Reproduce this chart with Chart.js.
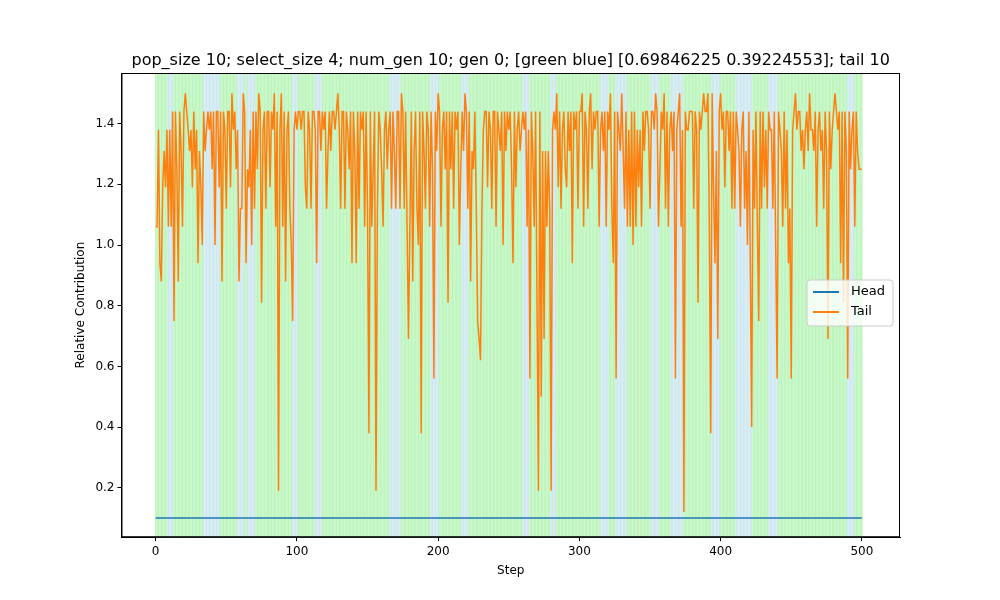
<!DOCTYPE html>
<html><head><meta charset="utf-8">
<script src="https://cdn.jsdelivr.net/npm/chart.js@4"></script>
<style>html,body{margin:0;background:#fff}#w{width:1000px;height:600px}</style>
</head><body><div id="w"><canvas id="c"></canvas></div>
<script>
const titleText = "pop_size 10; select_size 4; num_gen 10; gen 0; [green blue] [0.69846225 0.39224553]; tail 10";
const headValue = 0.1;
const tailValues = [
1.06,1.06,1.38,0.94,0.88,1.19,1.31,1.19,1.38,1.06,
1.38,1.06,1.44,0.75,1.44,1.25,0.88,1.44,1.31,1.06,
1.44,1.5,1.44,1.38,1.31,1.38,1.19,1.44,1.25,1.38,
0.94,1.31,1.19,1.0,1.44,1.31,1.38,1.44,1.38,1.44,
1.25,1.44,1.0,1.44,1.44,1.19,1.44,0.88,1.44,1.38,
1.12,1.44,1.44,1.19,1.5,1.38,1.44,1.25,1.38,0.88,
1.12,1.12,1.5,1.44,0.94,1.25,1.19,1.38,1.0,1.44,
1.12,1.44,1.25,1.5,1.44,0.81,1.38,1.44,1.12,1.44,
1.44,1.19,1.44,1.38,1.5,1.06,1.44,0.19,1.38,1.5,
1.06,1.44,0.88,1.38,1.44,1.12,1.0,0.75,1.38,1.44,
1.38,1.44,1.44,1.38,1.44,1.44,1.19,1.12,1.44,1.38,
1.12,1.44,1.44,1.38,0.94,1.44,1.44,1.31,1.44,1.38,
1.44,1.12,1.31,1.44,1.31,1.44,1.44,1.38,1.44,1.5,
1.38,1.12,1.44,1.44,1.12,1.44,1.38,1.25,1.44,0.94,
1.44,1.31,0.94,1.44,1.12,1.44,1.38,1.44,1.06,1.44,
1.12,0.38,1.44,1.06,1.25,1.44,0.19,1.12,1.44,1.38,
1.25,1.06,1.38,1.44,1.25,1.38,1.44,1.12,1.44,1.31,
1.12,1.44,1.44,1.12,1.5,1.44,1.12,1.44,1.06,0.69,
1.06,1.44,0.88,1.31,1.44,1.12,1.0,1.44,0.38,1.44,
1.31,1.12,1.44,1.38,1.06,1.44,1.25,0.56,1.44,1.31,
1.5,1.44,1.06,1.38,1.44,1.25,1.44,0.81,1.44,1.25,
1.44,1.12,1.44,1.38,1.44,1.0,1.25,1.44,1.31,1.5,
1.44,1.12,1.44,0.88,1.31,1.25,1.44,1.12,0.75,0.69,
0.62,1.12,1.38,1.44,1.44,1.19,1.44,1.38,1.12,1.44,
1.44,1.06,1.44,1.38,1.31,1.44,1.0,1.44,1.31,1.44,
1.38,1.44,1.25,0.94,1.44,1.19,1.38,1.44,1.31,1.38,
1.44,1.38,1.44,1.06,1.38,0.56,1.44,1.31,1.06,1.44,
0.81,0.19,1.44,0.5,1.31,0.69,1.31,1.06,1.31,1.12,
0.19,1.38,1.44,1.38,1.5,1.19,1.44,1.12,1.38,1.44,
1.25,1.19,1.44,1.31,1.44,0.94,1.44,1.38,1.44,1.12,
1.44,1.44,1.5,1.06,1.44,1.38,1.12,1.44,1.5,1.25,
1.44,1.38,1.44,1.44,1.06,1.38,1.44,1.31,1.44,1.06,
1.44,1.38,1.5,1.12,0.94,1.44,0.56,1.44,1.38,1.31,
1.5,1.31,1.12,1.44,1.06,1.38,1.06,1.44,1.0,1.44,
1.06,1.38,1.19,1.38,1.06,1.44,1.31,1.44,1.44,1.38,
1.12,1.44,1.44,1.38,1.5,1.44,1.06,1.25,1.44,1.38,
1.5,1.12,1.44,1.06,1.38,1.44,1.31,1.44,0.56,1.38,
1.44,1.5,1.06,1.38,0.12,1.44,1.38,1.38,1.44,1.44,
1.44,1.12,1.44,1.38,0.81,1.44,1.38,1.44,1.5,1.44,
1.44,1.5,1.06,0.38,1.5,1.19,0.94,1.31,0.69,1.44,
1.5,1.38,1.44,1.19,1.44,1.44,1.31,1.44,1.12,1.44,
1.12,1.44,1.38,1.31,1.06,1.38,1.44,1.12,1.31,1.0,
1.44,0.94,0.4,1.38,1.12,1.44,1.06,0.75,1.44,1.12,
1.44,1.19,1.38,1.12,1.44,1.38,1.38,1.12,1.44,1.0,
0.56,1.44,1.38,1.31,1.06,1.44,1.12,1.38,0.94,1.12,
0.56,1.38,1.44,1.5,1.38,1.44,1.44,1.31,1.38,1.25,
1.38,1.44,1.31,1.5,1.38,1.38,1.31,1.44,1.06,1.38,
1.44,1.31,1.38,1.12,1.44,1.31,0.69,1.44,1.25,1.38,
1.44,1.5,1.44,1.38,1.44,0.94,1.44,0.81,1.44,1.31,
0.56,1.44,1.25,1.38,1.44,1.06,1.44,1.31,1.25,1.25,
1.25];
const blueRanges = [[9,12],[34,45],[58,62],[65,70],[97,100],[113,117],[166,173],[195,200],[217,221],[260,264],[280,283],[315,320],[326,333],[351,356],[365,373],[394,399],[411,422],[434,440],[490,494]];
const steps = tailValues.map((_, i) => i);

const bgPlugin = {
  id: 'bg',
  beforeDatasetsDraw(chart) {
    const {ctx, chartArea: a, scales: {x}} = chart;
    ctx.save();
    for (const i of steps) {
      const blue = blueRanges.some(r => i >= r[0] && i <= r[1]);
      const x0 = x.getPixelForValue(i - 0.5), x1 = x.getPixelForValue(i + 0.5);
      ctx.fillStyle = blue ? 'rgba(173,216,230,0.65)' : 'rgba(144,238,144,0.65)';
      ctx.fillRect(x0, a.top, x1 - x0, a.bottom - a.top);
      ctx.fillStyle = 'rgba(255,255,255,0.35)';
      ctx.fillRect(x0, a.top, 0.5, a.bottom - a.top);
    }
    ctx.restore();
  },
  afterDraw(chart) {
    const {ctx, chartArea: a} = chart;
    ctx.save();
    ctx.strokeStyle = '#000'; ctx.lineWidth = 1;
    ctx.strokeRect(a.left + 0.5, a.top + 0.5, a.right - a.left - 1, a.bottom - a.top - 1);
    ctx.fillStyle = '#000';
    ctx.font = '16px "DejaVu Sans"'; ctx.textAlign = 'center'; ctx.textBaseline = 'alphabetic';
    ctx.fillText(titleText, (a.left + a.right) / 2, a.top - 8);
    ctx.textAlign = 'left';
    const lx = 807, ly = 280, lw = 86, lh = 46;
    ctx.fillStyle = 'rgba(255,255,255,0.8)';
    ctx.strokeStyle = '#ccc';
    ctx.beginPath(); ctx.roundRect(lx, ly, lw, lh, 3); ctx.fill(); ctx.stroke();
    ctx.font = '13px "DejaVu Sans"'; ctx.textBaseline = 'middle';
    chart.data.datasets.forEach((d, k) => {
      const yy = ly + 12 + k * 20;
      ctx.strokeStyle = d.borderColor; ctx.lineWidth = 2;
      ctx.beginPath(); ctx.moveTo(lx + 6, yy); ctx.lineTo(lx + 32, yy); ctx.stroke();
      ctx.fillStyle = '#000'; ctx.fillText(d.label, lx + 44, yy);
    });
    ctx.restore();
  }
};

const tickGrid = {display: true, drawOnChartArea: false, drawTicks: true, tickLength: 4, color: '#000'};
new Chart(document.getElementById('c'), {
  type: 'line',
  data: {
    labels: steps,
    datasets: [
      {label: 'Head', data: steps.map(s => ({x: s, y: headValue})), borderColor: '#1f77b4', borderWidth: 1.5, pointRadius: 0},
      {label: 'Tail', data: steps.map(s => ({x: s, y: tailValues[s]})), borderColor: '#ff7f0e', borderWidth: 1.5, pointRadius: 0}
    ]
  },
  options: {
    animation: false, responsive: true, maintainAspectRatio: false,
    layout: {padding: {top: 73, right: 100, left: 70, bottom: 20}},
    plugins: {legend: {display: false}, tooltip: {enabled: false}, title: {display: false}},
    scales: {
      x: {type: 'linear', min: -24.2, max: 527,
        afterBuildTicks: s => { s.ticks = [0,100,200,300,400,500].map(v => ({value: v})); },
        grid: tickGrid,
        border: {color: '#000'},
        ticks: {color: '#000', font: {family: 'DejaVu Sans', size: 12}},
        title: {display: true, text: 'Step', color: '#000', font: {family: 'DejaVu Sans', size: 12}, padding: 2}},
      y: {min: 0.037, max: 1.567,
        afterBuildTicks: s => { s.ticks = [0.2,0.4,0.6,0.8,1.0,1.2,1.4].map(v => ({value: v})); },
        grid: tickGrid,
        border: {color: '#000'},
        ticks: {color: '#000', font: {family: 'DejaVu Sans', size: 12}, callback: v => v.toFixed(1)},
        title: {display: true, text: 'Relative Contribution', color: '#000', font: {family: 'DejaVu Sans', size: 12}, padding: 4}}
    }
  },
  plugins: [bgPlugin]
});
</script></body></html>
